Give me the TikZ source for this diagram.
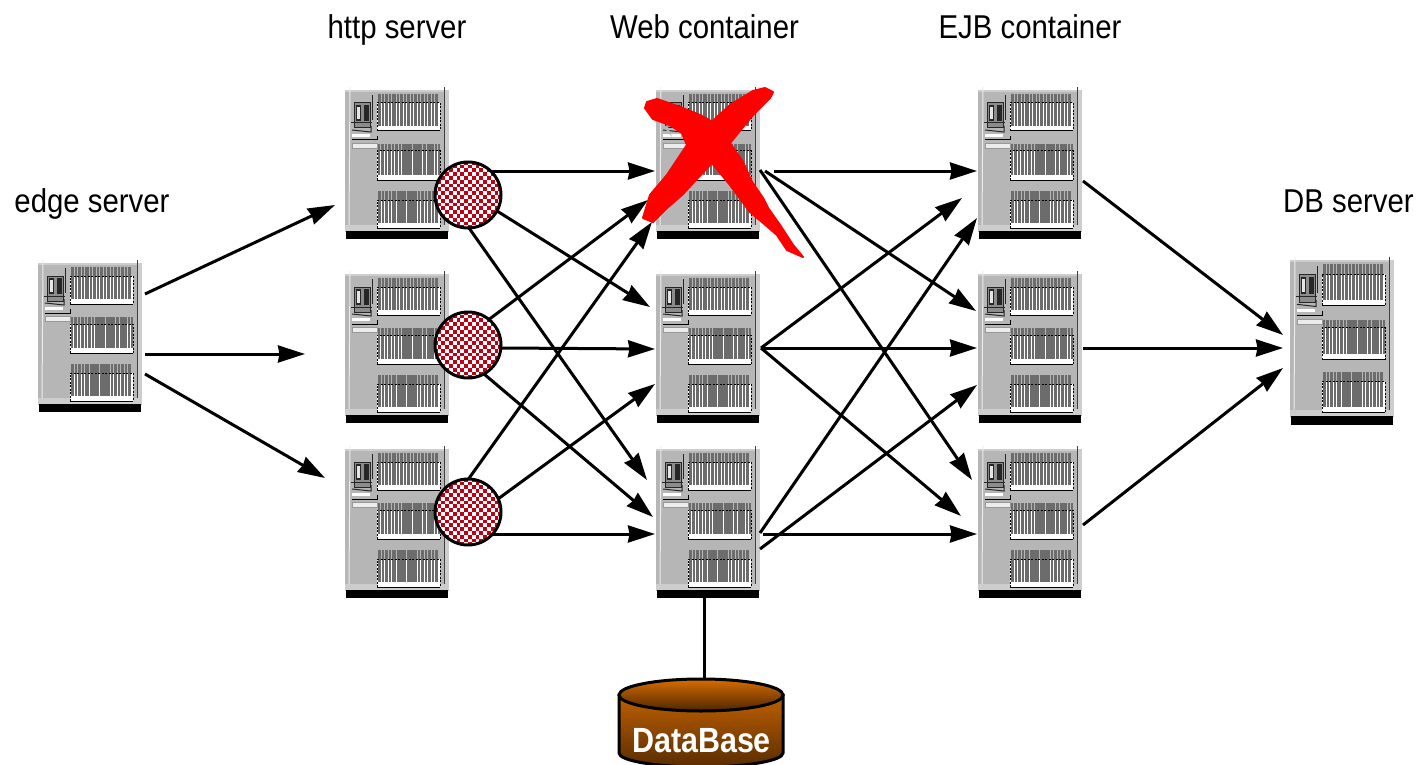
\documentclass[tikz,border=0pt]{standalone}
\usepackage{fontspec}
\setmainfont{Liberation Sans}
\usetikzlibrary{arrows.meta,shapes.geometric,calc}
\definecolor{srvgray}{RGB}{182,182,182}
\definecolor{srvlight}{RGB}{205,205,205}
\definecolor{barcol}{RGB}{108,108,108}
\definecolor{chkred}{RGB}{190,0,20}
\newfontfamily\lblfont[FakeStretch=0.89]{Liberation Sans}
\newfontfamily\dbfont[FakeStretch=0.87,BoldFont={Liberation Sans Bold}]{Liberation Sans}
\tikzset{
  arr/.style={line width=3pt,-{Stealth[length=27pt,width=17pt,inset=1.5pt]}},
  plain/.style={line width=3pt},
  srvbody/.style={anchor=north west,inner sep=0pt,outer sep=0pt,fill=srvgray,minimum width=104pt},
  lbl/.style={inner sep=0pt,anchor=base,font=\lblfont\fontsize{33}{36}\selectfont},
  chk/.style={circle,inner sep=0pt,outer sep=0pt,minimum size=66pt,draw=black,line width=3pt,fill=white,
    path picture={
      \foreach \i in {-9,...,8}{\foreach \j in {-9,...,8}{
        \pgfmathparse{int(mod(\i+\j+20,2))}
        \ifnum\pgfmathresult=0
          \fill[chkred] ($(path picture bounding box.center)+(\i*3.8,\j*3.8)$) rectangle +(3.8,3.8);
        \fi
      }}
    }},
}
% stripe sets
\newcommand\barsA[2]{\foreach \a/\w in {0/3,3.8/2.4,7/3.4,11.2/2,14/3.6,18.5/2.4,21.8/3,25.6/2.2,28.6/3.6,33/2.2,36/3.2,40/2.4,43.2/3,47/2,49.8/3.4,54/2.4,57.2/3.2}{\fill[barcol] (33+\a,#1) rectangle (33+\a+\w,#2);}}
\newcommand\barsB[2]{\foreach \a/\w in {0/2.4,3.2/3,7/2,9.8/3.4,14/2.4,17.2/3,21/2.2,24/3.6,28.4/2.2,31.4/3,35.2/2.4,38.4/3.2,42.4/2,45.2/3,49/2.6,52.4/3.4,56.6/2.2,59.6/2}{\fill[barcol] (33+\a,#1) rectangle (33+\a+\w,#2);}}
\newcommand\barsC[2]{\foreach \a/\w in {0/3.4,4.2/2.2,7.2/3,11/2.4,14.2/3.6,18.6/2,21.4/3.2,25.4/2.4,28.6/3,32.4/2.2,35.4/3.6,39.8/2.4,43/3,46.8/2.2,49.8/3.4,54/2,56.8/3.6}{\fill[barcol] (33+\a,#1) rectangle (33+\a+\w,#2);}}
% name, x, y, y-scale
\newcommand\srv[4]{%
  \node[srvbody,minimum height=#4*142pt] (#1) at (#2,#3) {};
  \begin{scope}[shift={(#2,#3)},yscale=#4]
    \fill[black] (1,140.5) rectangle (103,148.5);
    \fill[srvlight] (100,0) rectangle (104,140.5);
    \fill[srvlight] (0,0) rectangle (104,2);
    \fill[srvlight] (0,135) rectangle (104,140.5);
    \draw[white!85!gray,line width=1pt] (5,-3) -- (4,135);
    \draw[black!75,line width=1pt] (99,-3) -- (99,135);
    % slots
    \foreach \t/\b in {13/41,61/90,110/138}{
      \fill[white] (32,\t) rectangle (95,\b);
    }
    \barsA{4}{36}\barsB{54}{85}\barsC{101}{133}
    \foreach \t/\b in {13/41,61/90,110/138}{
      \draw[black,line width=1pt] (32,\b) -- (95,\b);
      \draw[black,line width=1pt,dash pattern=on 2pt off 1.5pt] (32,\b) -- (32,\t) -- (95,\t) -- (95,\b);
    }
    % console
    \fill[black!45] (9,13) rectangle (25,38);
    \draw[black!85,line width=1pt] (9,13) rectangle (25,38);
    \fill[black!85] (11,15) rectangle (16,31);
    \fill[black!85] (19,15) rectangle (24,31);
    \fill[white!80!gray] (12,17) rectangle (14.5,29);
    \draw[black!85,line width=1pt] (6,33) -- (27,33);
    \draw[black!85,line width=1pt] (27,5) -- (27,30);
    \draw[black!85,line width=1pt] (7,40) -- (26,42) -- (26,36);
    \draw[black,line width=1pt] (7,50) -- (32,50) -- (32,46);
    \fill[white] (7,44) rectangle (25,47);
    \fill[white!85!gray] (7,53.5) rectangle (32,58);
    \draw[black!40,line width=.6pt] (7,53.5) rectangle (32,58);
  \end{scope}}
\newcommand\conn[6]{\draw[arr] ([shift={(#2,#3)}]#1) -- ([shift={(#5,#6)}]#4);}
\begin{document}
\begin{tikzpicture}[x=1pt,y=-1pt]
\useasboundingbox (0,0) rectangle (1416,765);
% labels
\node[lbl] (lhttp) at (397,38.5) {http server};
\node[lbl] (lweb) at (704.5,38.5) {Web container};
\node[lbl] (lejb) at (1030,38.5) {EJB container};
\node[lbl] (ledge) at (92,212) {edge server};
\node[lbl] (ldb) at (1348.5,212) {DB server};
% servers
\srv{edge}{38}{263}{1}
\srv{h1}{345}{90}{1}
\srv{h2}{345}{274}{1}
\srv{h3}{345}{449}{1}
\srv{w1}{656}{90}{1}
\srv{w2}{656}{274}{1}
\srv{w3}{656}{449}{1}
\srv{e1}{978}{90}{1}
\srv{e2}{978}{274}{1}
\srv{e3}{978}{449}{1}
\srv{dbs}{1290}{260}{1.108}
% database
\shade[top color=orange!75!black,bottom color=orange!35!black,draw=black,line width=3pt]
  (619,695) -- (619,753) arc[start angle=180,end angle=360,x radius=82,y radius=-14] -- (783,695) -- cycle;
\node[ellipse,inner sep=0pt,outer sep=0pt,minimum width=164pt,minimum height=32pt,draw=black,line width=3pt,
  top color=orange!85!black,bottom color=orange!30!black] (dbase) at (701,695) {};
\node[inner sep=0pt,text=white,font=\dbfont\bfseries\fontsize{35}{38}\selectfont] (dbtext) at (701.5,741) {DataBase};
\draw[plain] ([shift={(48,148)}]w3.north west) -- ([xshift=3pt]dbase.north);
% circles
\node[chk] (c1) at (468,195) {};
\node[chk] (c2) at (468,345) {};
\node[chk] (c3) at (468,512) {};
% edge to http
\conn{edge.north west}{107}{31}{h1.north west}{-10}{115}
\conn{edge.north west}{107}{91}{h2.north west}{-40}{80}
\conn{edge.north west}{107}{111}{h3.north west}{-20}{29}
% http to web
\conn{c1.center}{23}{-24}{w1.north west}{-1}{81}
\conn{c1.center}{29}{16}{w2.north west}{-6}{33}
\conn{c1.center}{1}{33}{w3.north west}{-9}{31}
\conn{c2.center}{21}{-25.6}{w1.north west}{-8}{110}
\conn{c2.center}{33}{3}{w2.north west}{-1}{75}
\conn{c2.center}{16}{29}{w3.north west}{-3}{68}
\conn{c3.center}{0.5}{-33}{w1.north west}{-4}{132}
\conn{c3.center}{30}{-13}{w2.north west}{-1}{110}
\conn{c3.center}{25}{22}{w3.north west}{-1}{85}
% web to ejb
\conn{w1.north west}{118}{81}{e1.north west}{-1}{81}
\conn{w1.north west}{109}{81}{e2.north west}{-2}{37}
\conn{w1.north west}{104}{80}{e3.north west}{-6}{31}
\conn{w2.north west}{105}{74}{e1.north west}{-16}{108}
\conn{w2.north west}{105}{74}{e2.north west}{-1}{74}
\conn{w2.north west}{105}{74}{e3.north west}{-17}{67}
\conn{w3.north west}{104}{84}{e1.north west}{-1}{128}
\conn{w3.north west}{104}{100}{e2.north west}{-1}{111}
\conn{w3.north west}{107}{85}{e3.north west}{-1}{85}
% ejb to db
\conn{e1.north west}{105}{91}{dbs.north west}{-7}{75}
\conn{e2.north west}{105}{74}{dbs.north west}{-7}{88}
\conn{e3.north west}{105}{76}{dbs.north west}{-7}{108}
% red cross
\filldraw[red,line width=2pt,line join=round] (645,108) -- (647,102) -- (657,99) -- (680,107) -- (700,115) -- (712,121.7)
  -- (730,105) -- (753,91) -- (765,88) -- (773,92) -- (770,98) -- (753,115) -- (730,143)
  -- (743,162) -- (752,182) -- (763,198) -- (768,208) -- (780,225) -- (793,245) -- (803,257)
  -- (787,250) -- (777,235) -- (762,222) -- (750,212) -- (730,185) -- (712,163)
  -- (694,182) -- (683,194) -- (667,208) -- (653,222) -- (643,218) -- (650,195) -- (667,175)
  -- (687,145) -- (682,133) -- (670,125) -- (653,119) -- cycle;
\fill[srvgray] (662,125) -- (668,127) -- (672,137) -- cycle;
\end{tikzpicture}
\end{document}
